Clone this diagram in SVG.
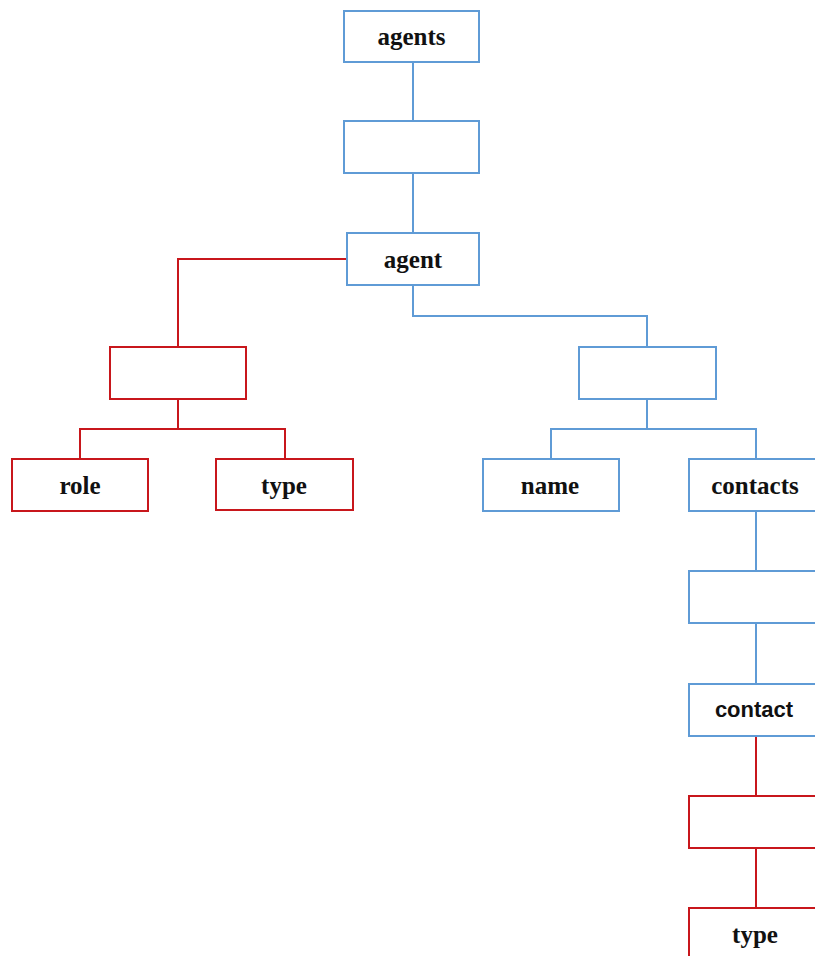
<svg xmlns="http://www.w3.org/2000/svg" width="815" height="956" viewBox="0 0 815 956">
  <style>
    .bg { fill: #ffffff; }
    .box { fill: #ffffff; stroke-width: 2; }
    .blue { stroke: #5f9bd6; }
    .red { stroke: #c8171c; }
    .wire { fill: none; stroke-width: 2; }
    .lbl { font-family: "Liberation Serif", "Times New Roman", serif; font-weight: bold; font-size: 25px; fill: #111111; text-anchor: middle; }
    .lbl-sans { font-family: "Liberation Sans", Arial, sans-serif; font-weight: bold; font-size: 22px; fill: #111111; text-anchor: middle; }
  </style>
  <rect class="bg" x="0" y="0" width="815" height="956"/>

  <g id="connectors">
    <path class="wire blue" d="M413 62 V121"/>
    <path class="wire blue" d="M413 173 V233"/>
    <path class="wire red" d="M347 259 H178 V347"/>
    <path class="wire red" d="M178 399 V429 M80 459 V429 H285 V459"/>
    <path class="wire blue" d="M413 285 V316 H647 V347"/>
    <path class="wire blue" d="M647 399 V429 M551 459 V429 H756 V459"/>
    <path class="wire blue" d="M756 511 V571"/>
    <path class="wire blue" d="M756 623 V684"/>
    <path class="wire red" d="M756 736 V796"/>
    <path class="wire red" d="M756 848 V908"/>
  </g>

  <g id="agents">
    <rect class="box blue" x="344" y="11" width="135" height="51"/>
    <text class="lbl" x="411.5" y="45">agents</text>
  </g>
  <g id="agents-seq">
    <rect class="box blue" x="344" y="121" width="135" height="52"/>
  </g>
  <g id="agent">
    <rect class="box blue" x="347" y="233" width="132" height="52"/>
    <text class="lbl" x="413" y="268">agent</text>
  </g>
  <g id="agent-attrs">
    <rect class="box red" x="110" y="347" width="136" height="52"/>
  </g>
  <g id="role">
    <rect class="box red" x="12" y="459" width="136" height="52"/>
    <text class="lbl" x="80" y="494">role</text>
  </g>
  <g id="type-attr">
    <rect class="box red" x="216" y="459" width="137" height="51"/>
    <text class="lbl" x="284" y="494">type</text>
  </g>
  <g id="agent-seq">
    <rect class="box blue" x="579" y="347" width="137" height="52"/>
  </g>
  <g id="name">
    <rect class="box blue" x="483" y="459" width="136" height="52"/>
    <text class="lbl" x="550" y="494">name</text>
  </g>
  <g id="contacts">
    <rect class="box blue" x="689" y="459" width="136" height="52"/>
    <text class="lbl" x="755" y="494">contacts</text>
  </g>
  <g id="contacts-seq">
    <rect class="box blue" x="689" y="571" width="136" height="52"/>
  </g>
  <g id="contact">
    <rect class="box blue" x="689" y="684" width="136" height="52"/>
    <text class="lbl-sans" x="754" y="717">contact</text>
  </g>
  <g id="contact-attrs">
    <rect class="box red" x="689" y="796" width="136" height="52"/>
  </g>
  <g id="contact-type">
    <rect class="box red" x="689" y="908" width="136" height="52"/>
    <text class="lbl" x="755" y="943">type</text>
  </g>
</svg>
